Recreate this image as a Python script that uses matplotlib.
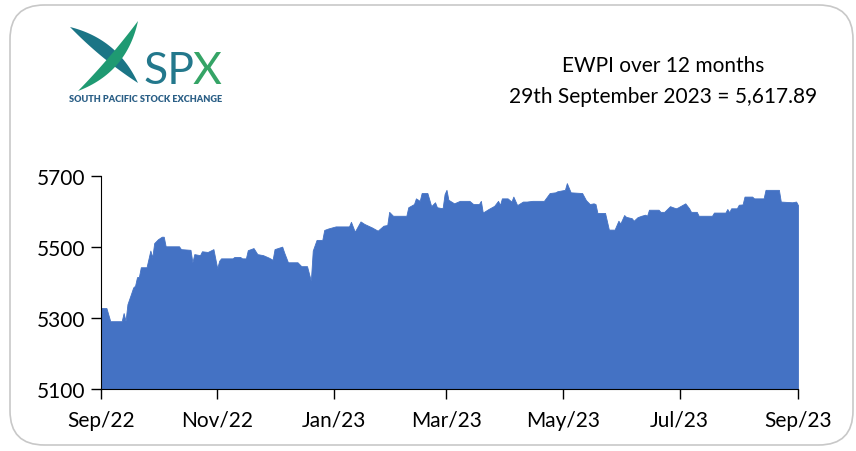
import numpy as np
import pandas as pd
import matplotlib.pyplot as plt
import matplotlib.dates as mdates
from matplotlib.patches import FancyBboxPatch, Polygon

plt.rcParams['font.family'] = ['Lato', 'DejaVu Sans']

start = pd.Timestamp('2022-09-29')
# days after 29 Sep 2022
day_offsets = [0, 3, 5, 11, 12, 13, 14, 16, 17, 18, 19, 20, 21, 24, 26, 27, 28, 30, 32, 33,
               34, 41, 42, 47, 48, 49, 52, 53, 56, 59, 61, 62, 63, 69, 70, 73, 74, 76, 77, 80,
               82, 85, 88, 90, 91, 95, 96, 98, 103, 105, 108, 110, 111, 113, 116, 117, 119, 123, 130, 131,
               133, 136, 138, 142, 145, 148, 150, 151, 153, 160, 161, 164, 165, 167, 168, 171, 173, 175, 176, 178,
               179, 180, 181, 182, 185, 188, 193, 195, 198, 199, 200, 203, 206, 208, 209, 210, 213, 215, 216, 218,
               221, 223, 226, 232, 235, 238, 239, 243, 244, 246, 252, 254, 256, 258, 259, 260, 264, 266, 269, 271,
               272, 274, 275, 278, 279, 281, 283, 285, 286, 287, 292, 293, 295, 298, 301, 302, 306, 308, 309, 312,
               313, 320, 321, 327, 328, 329, 330, 333, 334, 336, 337, 341, 342, 347, 348, 355, 356, 362, 364, 365]
ewpi = [5328, 5328, 5291, 5291, 5314, 5292, 5339, 5370, 5386, 5391, 5415, 5416, 5443, 5443, 5490, 5471, 5511, 5522, 5529, 5529,
        5502, 5502, 5494, 5492, 5457, 5480, 5477, 5488, 5486, 5494, 5440, 5461, 5468, 5468, 5472, 5472, 5468, 5468, 5491, 5497,
        5480, 5477, 5470, 5464, 5494, 5501, 5485, 5457, 5457, 5446, 5446, 5405, 5490, 5520, 5520, 5548, 5552, 5558, 5558, 5571,
        5543, 5572, 5565, 5555, 5546, 5560, 5562, 5599, 5588, 5588, 5612, 5621, 5637, 5630, 5652, 5652, 5615, 5626, 5612, 5610,
        5610, 5649, 5661, 5633, 5623, 5630, 5630, 5621, 5621, 5630, 5597, 5607, 5616, 5630, 5618, 5637, 5637, 5628, 5642, 5618,
        5628, 5628, 5630, 5630, 5652, 5654, 5657, 5661, 5680, 5654, 5652, 5632, 5621, 5623, 5621, 5596, 5596, 5549, 5549, 5574,
        5566, 5590, 5585, 5581, 5574, 5584, 5588, 5591, 5588, 5605, 5605, 5599, 5599, 5615, 5609, 5611, 5623, 5609, 5599, 5599,
        5588, 5588, 5597, 5597, 5607, 5598, 5609, 5609, 5619, 5620, 5642, 5642, 5637, 5637, 5661, 5661, 5628, 5626, 5628, 5617.89]
y_ticks = [5100, 5300, 5500, 5700]
x_tick_dates = ['2022-09-29', '2022-11-29', '2023-01-29', '2023-03-29', '2023-05-29', '2023-07-29', '2023-09-29']
title_lines = ['EWPI over 12 months', '29th September 2023 = 5,617.89']

dates = start + pd.to_timedelta(day_offsets, unit='D')

fig = plt.figure(figsize=(8.56, 4.52), dpi=100)
W, H = 856, 452

# rounded frame
frame = FancyBboxPatch((10 / W, 6 / H), 843 / W, 440 / H, boxstyle='round,pad=0,rounding_size=0.04',
                       transform=fig.transFigure, facecolor='none', edgecolor='#c8c8c8', lw=1.2,
                       mutation_aspect=W / H, zorder=-5)
fig.patches.append(frame)

ax = fig.add_axes([100.7 / W, 1 - 390 / H, 697.3 / W, 213 / H])
ax.fill_between(dates, ewpi, 5100, color='#4472C4', lw=0.6, edgecolor='#4472C4')
ax.set_xlim(pd.Timestamp(x_tick_dates[0]), pd.Timestamp(x_tick_dates[-1]))
ax.set_ylim(5100, 5700)
ax.set_yticks(y_ticks)
ax.set_xticks(pd.to_datetime(x_tick_dates))
ax.xaxis.set_major_formatter(mdates.DateFormatter('%b/%y'))
for s in ['top', 'right']:
    ax.spines[s].set_visible(False)
ax.spines['left'].set_color('black')
ax.spines['bottom'].set_color('black')
ax.tick_params(axis='both', direction='out', length=7, width=1, labelsize=15, colors='black')
ax.tick_params(axis='x', pad=8)
ax.tick_params(axis='y', pad=4)
ax.set_facecolor('none')

# title text
fig.text(663 / W, 1 - 66 / H, title_lines[0], ha='center', va='center', fontsize=15)
fig.text(663 / W, 1 - 97 / H, title_lines[1], ha='center', va='center', fontsize=15)


# logo: two curved blades + SPX
def blade(p0, p1, bulge, width):
    p0, p1 = np.array(p0, float), np.array(p1, float)
    t = np.linspace(0, 1, 40)
    d = p1 - p0
    n = np.array([-d[1], d[0]]) / np.hypot(*d)
    mid = (p0 + p1) / 2
    c1 = mid + n * (bulge + width)
    c2 = mid + n * (bulge - width)
    a = [(1 - s) ** 2 * p0 + 2 * (1 - s) * s * c1 + s ** 2 * p1 for s in t]
    b = [(1 - s) ** 2 * p0 + 2 * (1 - s) * s * c2 + s ** 2 * p1 for s in t[::-1]]
    pts = np.array(a + b)
    pts[:, 0] /= W
    pts[:, 1] = 1 - pts[:, 1] / H
    return pts


fig.patches.append(Polygon(blade((70, 28), (138, 84), -8, 13), closed=True, transform=fig.transFigure,
                           facecolor='#1b7586', edgecolor='none'))
fig.patches.append(Polygon(blade((138, 22), (78, 92), -14, 11), closed=True, transform=fig.transFigure,
                           facecolor='#1f9a72', edgecolor='none'))
fig.text(143 / W, 1 - 71 / H, 'SP', fontsize=32, fontweight='normal', color='#23788c', va='center', ha='left')
fig.text(193 / W, 1 - 71 / H, 'X', fontsize=32, fontweight='normal', color='#35a466', va='center', ha='left')
fig.text(146 / W, 1 - 100 / H, 'SOUTH PACIFIC STOCK EXCHANGE', fontsize=6.6, fontweight='heavy',
         color='#2b5f86', va='center', ha='center')

fig.savefig('out.png', dpi=100)
